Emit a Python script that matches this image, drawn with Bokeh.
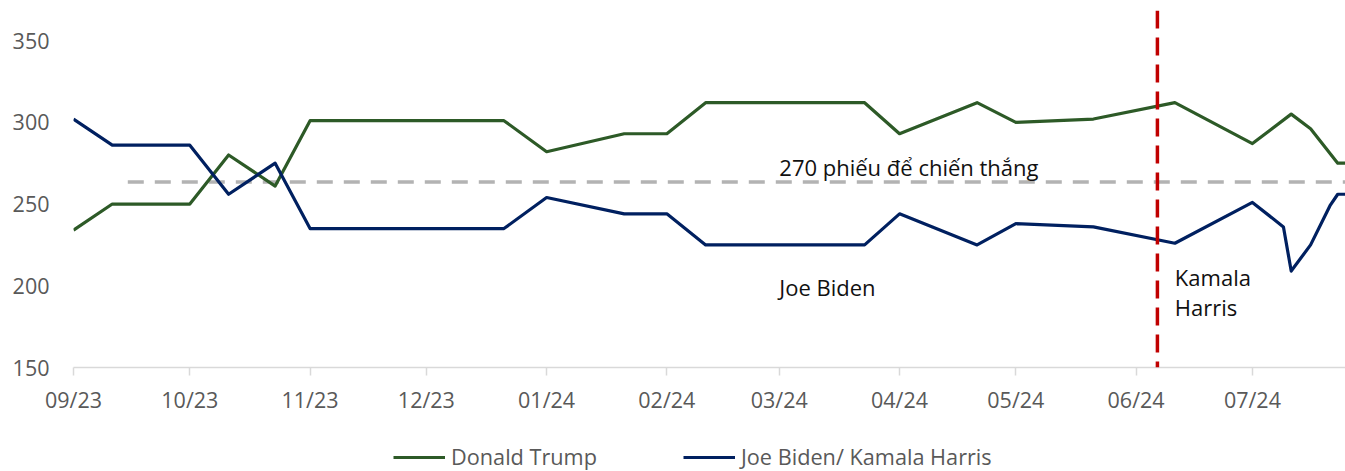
from datetime import datetime
from bokeh.plotting import figure
from bokeh.layouts import column
from bokeh.models import (Range1d, FixedTicker, MonthsTicker, DatetimeTickFormatter,
                          Span, Legend, LegendItem, ColumnDataSource)
from bokeh.core.properties import value
from bokeh.embed import file_html
from bokeh.resources import INLINE

# ---------------- data ----------------
trump_dates = ["2023-09-01", "2023-09-11", "2023-10-01", "2023-10-11", "2023-10-23",
               "2023-11-01", "2023-12-21", "2024-01-01", "2024-01-21", "2024-02-01",
               "2024-02-11", "2024-03-23", "2024-04-01", "2024-04-21", "2024-05-01",
               "2024-05-21", "2024-06-11", "2024-07-01", "2024-07-11", "2024-07-16",
               "2024-07-23", "2024-07-25"]
trump_votes = [234, 250, 250, 280, 261, 301, 301, 282, 293, 293, 312, 312, 293, 312,
               300, 302, 312, 287, 305, 296, 275, 275]

biden_dates = ["2023-09-01", "2023-09-11", "2023-10-01", "2023-10-11", "2023-10-23",
               "2023-11-01", "2023-12-21", "2024-01-01", "2024-01-21", "2024-02-01",
               "2024-02-11", "2024-03-23", "2024-04-01", "2024-04-21", "2024-05-01",
               "2024-05-21", "2024-06-11", "2024-07-01", "2024-07-09", "2024-07-11",
               "2024-07-16", "2024-07-21", "2024-07-23", "2024-07-25"]
biden_votes = [302, 286, 286, 256, 275, 235, 235, 254, 244, 244, 225, 225, 244, 225,
               238, 236, 226, 251, 236, 209, 225, 249, 256, 256]

series_names = ["Donald Trump", "Joe Biden/ Kamala Harris"]

threshold_dates = ["2023-09-15", "2024-07-25"]
threshold_votes = [263.5, 263.5]

switch_date = "2024-06-06 12:00"

y_ticks = [150, 200, 250, 300, 350]

ann_dates = ["2024-03-01", "2024-03-01", "2024-06-11"]
ann_votes = [272.5, 199.1, 196.3]
ann_text = ["270 phiếu để chiến thắng", "Joe Biden", "Kamala\nHarris"]

x_start, x_end = "2023-09-01", "2024-07-25"
y_start, y_end = 150, 368.4


def d(s):
    return datetime.fromisoformat(s)


GREEN = "#2d5a27"
BLUE = "#002060"
GRAY_TXT = "#595959"
FONT = "Open Sans"

tx = [d(s) for s in trump_dates]
bx = [d(s) for s in biden_dates]

p = figure(width=1345, height=430, output_backend="svg", toolbar_location=None,
           x_axis_type="datetime",
           x_range=Range1d(d(x_start), d(x_end)), y_range=Range1d(y_start, y_end),
           min_border_left=73, min_border_right=0, min_border_top=10,
           min_border_bottom=63)
p.outline_line_color = None
p.xgrid.visible = False
p.ygrid.visible = False
p.background_fill_color = "white"
p.border_fill_color = "white"

# threshold dashed line
p.line([d(s) for s in threshold_dates], threshold_votes, line_color="#b3b3b3",
       line_width=3.5, line_dash="16 11")

p.line(tx, trump_votes, line_color=GREEN, line_width=3.2, line_join="round")
p.line(bx, biden_votes, line_color=BLUE, line_width=3.2, line_join="round")

# vertical red dashed marker
p.add_layout(Span(location=d(switch_date), dimension="height", line_color="#c00000",
                  line_width=3.5, line_dash="18 9"))

# annotations
src = ColumnDataSource(dict(x=[d(s) for s in ann_dates], y=ann_votes, t=ann_text))
p.text(x="x", y="y", text="t", source=src, text_font=value(FONT),
       text_font_size="22px", text_baseline="middle", text_align="left",
       text_color="#111111", text_line_height=1.0)

# axes
xa = p.xaxis[0]
xa.ticker = MonthsTicker(months=list(range(1, 13)))
xa.formatter = DatetimeTickFormatter(days="%m/%y", months="%m/%y", years="%m/%y")
xa.axis_line_color = "#d9d9d9"
xa.axis_line_width = 1.5
xa.major_tick_line_color = "#d9d9d9"
xa.major_tick_line_width = 1.5
xa.major_tick_in = 0
xa.major_tick_out = 8
xa.minor_tick_line_color = None
xa.major_label_standoff = 9
xa.major_label_text_font = FONT
xa.major_label_text_font_size = "21.5px"
xa.major_label_text_color = GRAY_TXT

ya = p.yaxis[0]
ya.ticker = FixedTicker(ticks=y_ticks)
ya.axis_line_color = None
ya.major_tick_line_color = None
ya.minor_tick_line_color = None
ya.major_tick_in = 0
ya.major_tick_out = 0
ya.major_label_standoff = 24
ya.major_label_text_font = FONT
ya.major_label_text_font_size = "21.5px"
ya.major_label_text_color = GRAY_TXT

# legend strip below the chart (series drawn off-range; only the legend shows)
pl = figure(width=1345, height=41, output_backend="svg", toolbar_location=None,
            x_range=Range1d(0, 1), y_range=Range1d(0, 1),
            min_border_left=0, min_border_right=0, min_border_top=0,
            min_border_bottom=0)
pl.axis.visible = False
pl.grid.visible = False
pl.outline_line_color = None
lt = pl.line(tx, trump_votes, line_color=GREEN, line_width=3.2)
lb = pl.line(bx, biden_votes, line_color=BLUE, line_width=3.2)
legend = Legend(items=[LegendItem(label=series_names[0], renderers=[lt]),
                       LegendItem(label=series_names[1], renderers=[lb])],
                orientation="horizontal", location=(320, 0),
                glyph_width=52, glyph_height=20, label_height=20,
                label_standoff=6, spacing=86, padding=0, margin=0,
                border_line_color=None, background_fill_alpha=0,
                label_text_font=FONT, label_text_font_size="21.7px",
                label_text_color=GRAY_TXT)
pl.add_layout(legend)

open("out.html", "w").write(file_html(column(p, pl, spacing=0), INLINE))
